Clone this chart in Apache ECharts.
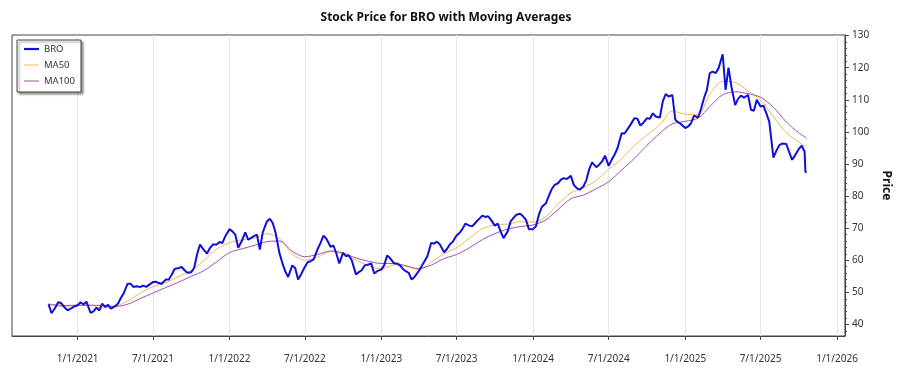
<!DOCTYPE html>
<html>
<head>
<meta charset="utf-8">
<script src="https://cdn.jsdelivr.net/npm/echarts@6/dist/echarts.min.js"></script>
<style>
  html, body { margin: 0; padding: 0; background: #fff; }
  #chart { width: 900px; height: 375px; }
</style>
</head>
<body>
<div id="chart"></div>
<script>
// BRO closing price, read roughly weekly off the reference
const dates = [
  '2020-10-23', '2020-10-30', '2020-11-08', '2020-11-15', '2020-11-22', '2020-12-01', '2020-12-08', '2020-12-15', '2020-12-22',
  '2021-01-01', '2021-01-08', '2021-01-15', '2021-01-22', '2021-02-01', '2021-02-08', '2021-02-15', '2021-02-22',
  '2021-03-01', '2021-03-08', '2021-03-15', '2021-03-22', '2021-04-01', '2021-04-08', '2021-04-15', '2021-04-22',
  '2021-05-01', '2021-05-08', '2021-05-15', '2021-05-22', '2021-06-01', '2021-06-08', '2021-06-15', '2021-06-22',
  '2021-07-01', '2021-07-08', '2021-07-15', '2021-07-22', '2021-08-01', '2021-08-08', '2021-08-15', '2021-08-22',
  '2021-09-01', '2021-09-08', '2021-09-15', '2021-09-22', '2021-10-01', '2021-10-08', '2021-10-15', '2021-10-22',
  '2021-11-01', '2021-11-08', '2021-11-15', '2021-11-22', '2021-12-01', '2021-12-08', '2021-12-15', '2021-12-22',
  '2022-01-01', '2022-01-08', '2022-01-15', '2022-01-22', '2022-02-01', '2022-02-08', '2022-02-15', '2022-02-22',
  '2022-03-01', '2022-03-08', '2022-03-15', '2022-03-22', '2022-04-01', '2022-04-08', '2022-04-15', '2022-04-22',
  '2022-05-01', '2022-05-08', '2022-05-15', '2022-05-22', '2022-06-01', '2022-06-08', '2022-06-15', '2022-06-22',
  '2022-07-01', '2022-07-08', '2022-07-15', '2022-07-22', '2022-08-01', '2022-08-08', '2022-08-15', '2022-08-22',
  '2022-09-01', '2022-09-08', '2022-09-15', '2022-09-22', '2022-10-01', '2022-10-08', '2022-10-15', '2022-10-22',
  '2022-11-01', '2022-11-08', '2022-11-15', '2022-11-22', '2022-12-01', '2022-12-08', '2022-12-15', '2022-12-22',
  '2023-01-01', '2023-01-08', '2023-01-15', '2023-01-22', '2023-02-01', '2023-02-08', '2023-02-15', '2023-02-22',
  '2023-03-01', '2023-03-08', '2023-03-15', '2023-03-22', '2023-04-01', '2023-04-08', '2023-04-15', '2023-04-22',
  '2023-05-01', '2023-05-08', '2023-05-15', '2023-05-22', '2023-06-01', '2023-06-08', '2023-06-15', '2023-06-22',
  '2023-07-01', '2023-07-08', '2023-07-15', '2023-07-22', '2023-08-01', '2023-08-08', '2023-08-15', '2023-08-22',
  '2023-09-01', '2023-09-08', '2023-09-15', '2023-09-22', '2023-10-01', '2023-10-08', '2023-10-15', '2023-10-22',
  '2023-11-01', '2023-11-08', '2023-11-15', '2023-11-22', '2023-12-01', '2023-12-08', '2023-12-15', '2023-12-22',
  '2024-01-01', '2024-01-08', '2024-01-15', '2024-01-22', '2024-02-01', '2024-02-08', '2024-02-15', '2024-02-22',
  '2024-03-01', '2024-03-08', '2024-03-15', '2024-03-22', '2024-04-01', '2024-04-08', '2024-04-15', '2024-04-22',
  '2024-05-01', '2024-05-08', '2024-05-15', '2024-05-22', '2024-06-01', '2024-06-08', '2024-06-15', '2024-06-22',
  '2024-07-01', '2024-07-08', '2024-07-15', '2024-07-22', '2024-08-01', '2024-08-08', '2024-08-15', '2024-08-22',
  '2024-09-01', '2024-09-08', '2024-09-15', '2024-09-22', '2024-10-01', '2024-10-08', '2024-10-15', '2024-10-22',
  '2024-11-01', '2024-11-08', '2024-11-15', '2024-11-22', '2024-12-01', '2024-12-08', '2024-12-15', '2024-12-22',
  '2025-01-01', '2025-01-08', '2025-01-15', '2025-01-22', '2025-02-01', '2025-02-08', '2025-02-15', '2025-02-22',
  '2025-03-01', '2025-03-08', '2025-03-15', '2025-03-22', '2025-04-01', '2025-04-08', '2025-04-15', '2025-04-22',
  '2025-05-01', '2025-05-08', '2025-05-15', '2025-05-22', '2025-06-01', '2025-06-08', '2025-06-15', '2025-06-22',
  '2025-07-01', '2025-07-08', '2025-07-15', '2025-07-22', '2025-08-01', '2025-08-08', '2025-08-15', '2025-08-22',
  '2025-09-01', '2025-09-08', '2025-09-15', '2025-09-22', '2025-10-01', '2025-10-08', '2025-10-15', '2025-10-17', '2025-10-20'
];
const bro = [
  46.3, 43.5, 45.2, 46.9, 46.7, 45.2, 44.4, 44.9, 45.5,
  46.0, 46.9, 46.2, 47.1, 43.6, 44.1, 45.2, 44.4,
  46.5, 45.5, 46.1, 44.9, 45.7, 46.5, 48.3, 49.8,
  52.7, 52.7, 51.7, 51.9, 51.7, 52.1, 51.7, 52.4,
  53.2, 53.3, 52.9, 52.7, 54.0, 54.0, 55.5, 57.3,
  57.6, 57.9, 56.9, 56.1, 56.3, 57.6, 61.8, 64.9,
  63.1, 62.1, 63.8, 64.9, 64.9, 65.7, 65.4, 67.5,
  69.7, 69.0, 68.0, 63.9, 66.4, 68.7, 66.4, 67.0,
  67.5, 68.0, 63.3, 68.7, 72.1, 72.9, 71.6, 68.5,
  62.3, 59.2, 56.6, 54.8, 58.4, 57.6, 54.0, 55.6,
  57.9, 59.4, 59.7, 60.2, 63.5, 65.4, 67.7, 66.7,
  64.2, 64.6, 62.1, 59.0, 62.3, 61.3, 61.5, 60.0,
  55.6, 56.3, 56.9, 58.4, 58.7, 59.0, 55.9, 56.6,
  57.1, 58.4, 61.5, 60.7, 59.0, 59.0, 58.4, 57.3,
  56.6, 56.1, 54.0, 54.8, 56.6, 58.1, 59.7, 61.3,
  65.4, 65.2, 65.8, 64.9, 62.5, 63.5, 65.0, 65.8,
  67.7, 68.5, 69.7, 71.4, 70.8, 70.6, 71.6, 72.6,
  73.9, 73.5, 73.7, 72.6, 70.8, 71.4, 69.0, 66.9,
  69.0, 72.1, 73.2, 74.2, 74.5, 73.7, 72.6, 69.7,
  69.7, 70.6, 74.2, 76.6, 77.8, 80.1, 82.2, 83.5,
  84.0, 85.1, 85.6, 85.3, 86.3, 83.5, 82.5, 82.0,
  83.0, 84.9, 88.4, 90.5, 89.0, 89.8, 90.8, 92.6,
  89.4, 91.3, 92.9, 94.9, 99.6, 99.5, 100.8, 102.2,
  104.3, 104.1, 102.0, 102.8, 104.3, 104.1, 105.8, 104.8,
  104.5, 109.5, 111.8, 111.0, 111.5, 103.8, 103.0, 102.4,
  101.2, 101.7, 102.7, 105.1, 104.5, 107.2, 110.5, 113.1,
  118.3, 118.8, 118.3, 119.8, 124.2, 113.1, 120.0, 114.1,
  108.4, 110.3, 111.3, 110.7, 111.5, 106.9, 106.6, 110.0,
  107.9, 108.2, 105.8, 103.2, 92.0, 94.1, 95.8, 96.4,
  96.2, 93.7, 91.3, 92.7, 94.7, 95.7, 93.9, 87.5, 87.4
];

// moving averages
const maDates = [
  '2020-10-23', '2020-11-01', '2020-12-01',
  '2021-01-01', '2021-02-01', '2021-03-01', '2021-04-01', '2021-05-01', '2021-06-01',
  '2021-07-01', '2021-08-01', '2021-09-01', '2021-10-01', '2021-11-01', '2021-12-01',
  '2022-01-01', '2022-02-01', '2022-03-01', '2022-04-01', '2022-05-01', '2022-06-01',
  '2022-07-01', '2022-08-01', '2022-09-01', '2022-10-01', '2022-11-01', '2022-12-01',
  '2023-01-01', '2023-02-01', '2023-03-01', '2023-04-01', '2023-05-01', '2023-06-01',
  '2023-07-01', '2023-08-01', '2023-09-01', '2023-10-01', '2023-11-01', '2023-12-01',
  '2024-01-01', '2024-02-01', '2024-03-01', '2024-04-01', '2024-05-01', '2024-06-01',
  '2024-07-01', '2024-08-01', '2024-09-01', '2024-10-01', '2024-11-01', '2024-12-01',
  '2025-01-01', '2025-02-01', '2025-03-01', '2025-04-01', '2025-05-01', '2025-06-01',
  '2025-07-01', '2025-08-01', '2025-09-01', '2025-10-01', '2025-10-20'
];
const ma50 = [
  46.3, 45.8, 45.6,
  45.9, 45.9, 45.2, 45.6, 47.3, 49.8,
  51.8, 53.0, 55.0, 56.8, 60.0, 63.5,
  65.5, 66.4, 66.8, 68.3, 66.8, 62.0,
  60.0, 61.0, 62.7, 61.9, 60.1, 58.3,
  57.3, 58.6, 58.1, 57.1, 59.4, 62.0,
  63.9, 66.9, 69.8, 71.0, 71.3, 72.0,
  71.9, 73.6, 77.5, 81.0, 82.6, 84.9,
  88.4, 91.6, 95.8, 99.0, 102.2, 106.5,
  105.5, 105.4, 111.7, 115.7, 115.4, 112.8,
  110.0, 104.7, 99.8, 96.8, 95.3
];
const ma100 = [
  46.4, 46.2, 45.9,
  46.0, 46.0, 45.9, 45.6, 46.3, 48.1,
  49.8, 51.5, 53.2, 55.0, 56.8, 59.5,
  62.4, 63.6, 64.6, 65.8, 66.0, 62.8,
  61.1, 61.8, 62.9, 62.3, 60.7, 59.7,
  59.0, 59.0, 58.3, 57.4, 58.5, 60.5,
  61.8, 63.9, 66.4, 68.3, 69.7, 70.5,
  71.0, 72.6, 75.8, 79.2, 80.3, 82.3,
  84.5, 88.1, 91.8, 95.8, 99.6, 102.5,
  103.3, 104.3, 107.9, 111.6, 112.5, 111.9,
  110.8, 107.7, 103.1, 99.7, 98.1
];

const xTicks = [
  '2021-01-01', '2021-07-01', '2022-01-01', '2022-07-01', '2023-01-01', '2023-07-01',
  '2024-01-01', '2024-07-01', '2025-01-01', '2025-07-01', '2026-01-01'
];
const yTicks = [40, 50, 60, 70, 80, 90, 100, 110, 120, 130];
const yMinorTicks = [38, 40, 42, 44, 46, 48, 50, 52, 54, 56, 58, 60, 62, 64, 66, 68, 70, 72, 74, 76, 78, 80,
  82, 84, 86, 88, 90, 92, 94, 96, 98, 100, 102, 104, 106, 108, 110, 112, 114, 116, 118, 120, 122, 124, 126, 128, 130];

const font = '"Noto Sans", sans-serif';
const toTime = (s) => +echarts.time.parse(s);
const tickTimes = xTicks.map(toTime);
const yMin = 36.4;
const yMax = 130.2;

function fmtDate(v) {
  const d = new Date(v);
  return `${d.getMonth() + 1}/${d.getDate()}/${d.getFullYear()}`;
}

const chart = echarts.init(document.getElementById('chart'), null, { renderer: 'canvas' });
chart.setOption({
  animation: false,
  backgroundColor: '#fff',
  title: {
    text: 'Stock Price for BRO with Moving Averages',
    left: 441,
    top: 7,
    textAlign: 'center',
    textStyle: { fontFamily: font, fontSize: 12, fontWeight: 'bold', color: '#111' },
  },
  legend: {
    orient: 'vertical',
    left: 17,
    top: 40,
    itemWidth: 15,
    itemHeight: 10,
    itemGap: 6,
    padding: [4, 6, 6, 7],
    backgroundColor: '#fff',
    borderColor: '#444',
    borderWidth: 1,
    shadowColor: 'rgba(0,0,0,0.4)',
    shadowBlur: 2,
    shadowOffsetX: 2,
    shadowOffsetY: 2,
    textStyle: { fontFamily: font, fontSize: 9.5, color: '#333' },
    data: [
      { name: 'BRO', icon: 'path://M0,0H15V2.2H0Z' },
      { name: 'MA50', icon: 'path://M0,0H15V1H0Z' },
      { name: 'MA100', icon: 'path://M0,0H15V1H0Z' },
    ],
  },
  grid: {
    left: 12, right: 41, top: 35, bottom: 39,
    show: true, borderColor: '#444', borderWidth: 1,
  },
  // value axis in epoch ms, so tick dates can be pinned with customValues
  xAxis: {
    type: 'value',
    min: toTime('2020-07-27'),
    max: toTime('2026-01-20'),
    axisLine: { show: true, lineStyle: { color: '#444' } },
    axisTick: { customValues: tickTimes, length: 4, lineStyle: { color: '#444' } },
    axisLabel: {
      customValues: tickTimes, formatter: fmtDate, margin: 18,
      fontFamily: font, fontSize: 10, color: '#333',
    },
    splitLine: { show: true, lineStyle: { color: '#e6e6e6' } },
  },
  yAxis: [{
    type: 'value',
    position: 'right',
    min: yMin,
    max: yMax,
    name: 'Price',
    nameLocation: 'middle',
    nameGap: 27,
    nameRotate: -90,
    nameTextStyle: { fontFamily: font, fontSize: 12, fontWeight: 'bold', color: '#111' },
    axisLine: { show: true, lineStyle: { color: '#444' } },
    axisTick: { show: true, customValues: yTicks, length: 4, lineStyle: { color: '#444' } },
    axisLabel: { customValues: yTicks, margin: 7, fontFamily: font, fontSize: 10, color: '#333' },
    splitLine: { show: false },
  }, {
    type: 'value',
    position: 'right',
    min: yMin,
    max: yMax,
    axisLine: { show: false },
    axisTick: { show: true, customValues: yMinorTicks, length: 2, lineStyle: { color: '#444' } },
    axisLabel: { show: false },
    splitLine: { show: false },
  }],
  series: [{
    name: 'BRO',
    type: 'line',
    data: dates.map((d, i) => [toTime(d), bro[i]]),
    symbol: 'none',
    lineStyle: { width: 2, color: '#1010d6' },
    itemStyle: { color: '#1010d6' },
    z: 3,
  }, {
    name: 'MA50',
    type: 'line',
    data: maDates.map((d, i) => [toTime(d), ma50[i]]),
    symbol: 'none',
    smooth: 0.3,
    lineStyle: { width: 1, color: '#f4b65a' },
    itemStyle: { color: '#f4b65a' },
    z: 2,
  }, {
    name: 'MA100',
    type: 'line',
    data: maDates.map((d, i) => [toTime(d), ma100[i]]),
    symbol: 'none',
    smooth: 0.3,
    lineStyle: { width: 1, color: '#a050b4' },
    itemStyle: { color: '#a050b4' },
    z: 2,
  }],
});
</script>
</body>
</html>
